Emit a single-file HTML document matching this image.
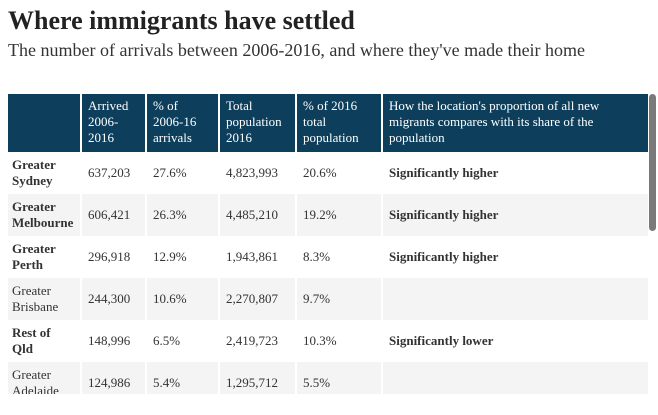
<!DOCTYPE html>
<html><head><meta charset="utf-8"><style>
body{margin:0;width:658px;height:415px;overflow:hidden;background:#fff;font-family:"Liberation Serif",serif;color:#333;}
h1{position:absolute;left:8px;top:6px;margin:0;font-size:26px;line-height:30px;font-weight:bold;color:#222;white-space:nowrap}
.sub{position:absolute;left:8px;top:39px;font-size:18px;line-height:22px;color:#333;white-space:nowrap}
.wrap{position:absolute;left:8px;top:94px;width:640px;height:300px;overflow:hidden}
table{border-collapse:collapse;table-layout:fixed;width:640px;font-size:13px;font-family:"Liberation Serif",serif;color:#333}
th{background:#0d3f5c;color:#fff;font-weight:normal;text-align:left;vertical-align:top;padding:4px 6px;line-height:16px;height:50px;border-left:2px solid #fff;font-family:"Liberation Serif",serif}
th:first-child{border-left:none}
td{height:42px;padding:0 6px;line-height:16px;border-left:2px solid #fff;vertical-align:middle;font-family:"Liberation Serif",serif}
td:first-child{border-left:none;padding-left:4px}
tr:nth-child(odd) td{background:#f4f4f4}
.b{font-weight:bold}
.sb{position:absolute;left:649px;top:94px;width:7px;height:137px;background:#7a7a7a;border-radius:4px}
</style></head><body>
<h1>Where immigrants have settled</h1>
<div class="sub">The number of arrivals between 2006-2016, and where they've made their home</div>
<div class="wrap">
<table>
<colgroup><col style="width:73px"><col style="width:65px"><col style="width:73px"><col style="width:77px"><col style="width:86px"><col></colgroup>
<tr><th></th><th>Arrived<br>2006-<br>2016</th><th>% of<br>2006-16<br>arrivals</th><th>Total population 2016</th><th>% of 2016 total population</th><th>How the location's proportion of all new migrants compares with its share of the population</th></tr>
<tr><td class="b">Greater Sydney</td><td>637,203</td><td>27.6%</td><td>4,823,993</td><td>20.6%</td><td class="b">Significantly higher</td></tr>
<tr><td class="b">Greater Melbourne</td><td>606,421</td><td>26.3%</td><td>4,485,210</td><td>19.2%</td><td class="b">Significantly higher</td></tr>
<tr><td class="b">Greater Perth</td><td>296,918</td><td>12.9%</td><td>1,943,861</td><td>8.3%</td><td class="b">Significantly higher</td></tr>
<tr><td>Greater Brisbane</td><td>244,300</td><td>10.6%</td><td>2,270,807</td><td>9.7%</td><td></td></tr>
<tr><td class="b">Rest of Qld</td><td>148,996</td><td>6.5%</td><td>2,419,723</td><td>10.3%</td><td class="b">Significantly lower</td></tr>
<tr><td>Greater Adelaide</td><td>124,986</td><td>5.4%</td><td>1,295,712</td><td>5.5%</td><td></td></tr>
</table>
</div>
<div class="sb"></div>
</body></html>
